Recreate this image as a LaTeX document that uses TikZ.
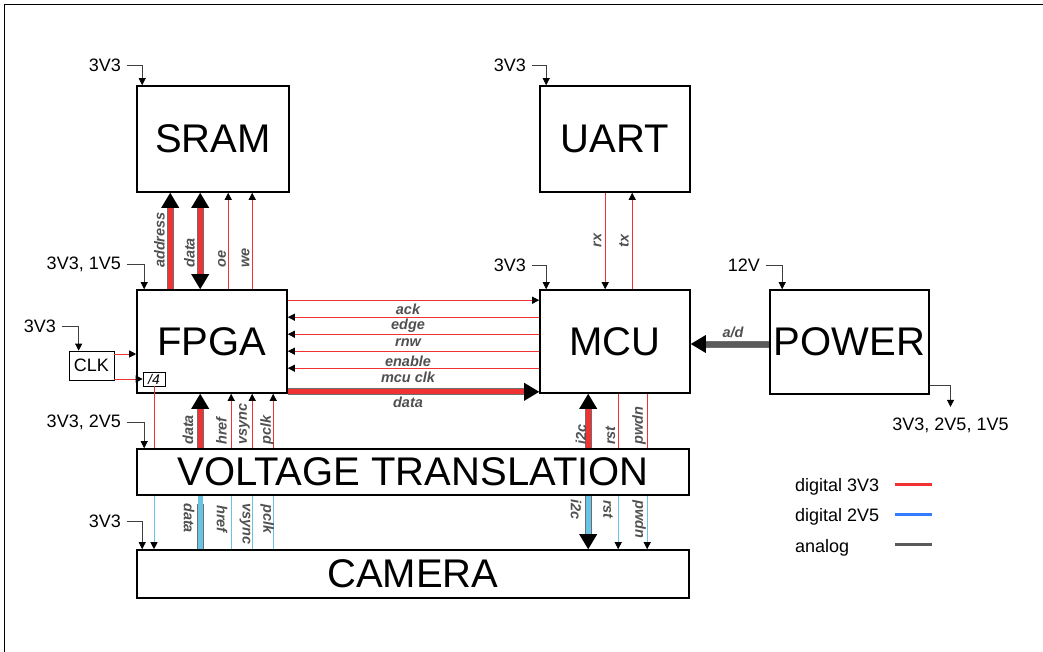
\documentclass[tikz,border=0pt]{standalone}
\usepackage{fontspec}
\setmainfont{Liberation Sans}
\usetikzlibrary{arrows.meta, shadows}

\definecolor{red3v3}{RGB}{240,50,50}
\definecolor{blue2v5}{RGB}{105,195,228}
\definecolor{bluekey}{RGB}{50,125,255}
\definecolor{analog}{RGB}{90,90,90}
\definecolor{busedge}{RGB}{110,110,110}
\definecolor{lblgray}{RGB}{80,80,80}

\begin{document}
\begin{tikzpicture}[x=1pt, y=-1pt,
    block/.style={draw, line width=1.6pt, fill=white, inner sep=0pt, font=\fontsize{40}{40}\selectfont,
        drop shadow={shadow xshift=1.3pt, shadow yshift=-1.3pt, fill=gray!80, opacity=0.6}},
    smallbox/.style={draw, line width=0.7pt, fill=white, inner sep=0pt, font=\fontsize{18}{18}\selectfont},
    vtext/.style={font=\fontsize{18}{18}\selectfont, inner sep=0pt},
    feed/.style={draw=black!75, line width=0.7pt, -{Triangle[width=7pt,length=7pt,color=black]}},
    sig/.style={draw=red3v3, line width=0.9pt},
    sigb/.style={draw=blue2v5, line width=0.9pt},
    tip/.style={-{Triangle[width=7pt,length=7pt,color=black]}},
    bigtip/.style={-{Triangle[width=18pt,length=15pt,line width=0pt,color=black]}},
    bigtips/.style={{Triangle[width=18pt,length=15pt,line width=0pt,color=black]}-{Triangle[width=18pt,length=15pt,line width=0pt,color=black]}},
    bus/.style={draw=#1, line width=5pt, preaction={draw=busedge, line width=7pt, -, shorten >=8pt}},
    busboth/.style={draw=#1, line width=5pt, preaction={draw=busedge, line width=7pt, -, shorten >=8pt, shorten <=8pt}},
    lbl/.style={font=\fontsize{14.5}{14.5}\selectfont\bfseries\itshape, text=lblgray, inner sep=0pt},
    uplbl/.style={lbl, rotate=90, anchor=west},
    dnlbl/.style={lbl, rotate=-90, anchor=west},
    key/.style={line width=3pt}]
\useasboundingbox (0,0) rectangle (1043,652);
\draw[line width=0.8pt] (4,652) -- (4,4) -- (1043,4);

% blocks
\node[block, minimum width=152pt, minimum height=106pt] (sram) at (213,139) {SRAM};
\node[block, minimum width=150pt, minimum height=106pt] (uart) at (615,139) {UART};
\node[block, minimum width=150pt, minimum height=103pt] (fpga) at (212,341.5) {FPGA};
\node[block, minimum width=150pt, minimum height=103pt] (mcu) at (615,341.5) {MCU};
\node[block, minimum width=159pt, minimum height=104pt] (power) at (849.5,342) {POWER};
\node[block, minimum width=552pt, minimum height=46pt] (vt) at (413,472) {VOLTAGE TRANSLATION};
\node[block, minimum width=552pt, minimum height=48pt] (camera) at (413,574) {CAMERA};
\node[smallbox, minimum width=45pt, minimum height=29pt] (clk) at (91.5,365.5) {CLK};
\node[smallbox, font=\fontsize{14}{14}\selectfont\itshape, minimum width=22pt, minimum height=14pt] (div) at (154,379) {/4};

% supplies
\node[vtext, anchor=east] (s-sram) at (121,65) {3V3};
\node[vtext, anchor=east] (s-uart) at (526,65) {3V3};
\node[vtext, anchor=east] (s-fpga) at (121,264) {3V3, 1V5};
\node[vtext, anchor=east] (s-clk) at (56,326) {3V3};
\node[vtext, anchor=east] (s-mcu) at (526,265) {3V3};
\node[vtext, anchor=east] (s-vt) at (121,422) {3V3, 2V5};
\node[vtext, anchor=east] (s-cam) at (121,521) {3V3};
\node[vtext, anchor=east] (s-pwr) at (760,265) {12V};
\node[vtext] (s-out) at (950.5,425.5) {3V3, 2V5, 1V5};
\draw[feed] ([xshift=6pt]s-sram.east) -| ([xshift=6pt]sram.north west);
\draw[feed] ([xshift=6pt]s-uart.east) -| ([xshift=7pt]uart.north west);
\draw[feed] ([xshift=6pt]s-fpga.east) -| ([xshift=8pt]fpga.north west);
\draw[feed] ([xshift=6pt]s-clk.east) -| ([xshift=10pt]clk.north west);
\draw[feed] ([xshift=6pt]s-mcu.east) -| ([xshift=7pt]mcu.north west);
\draw[feed] ([xshift=6pt]s-vt.east) -| ([xshift=8pt]vt.north west);
\draw[feed] ([xshift=6pt]s-cam.east) -| ([xshift=6pt]camera.north west);
\draw[feed] ([xshift=6pt]s-pwr.east) -| ([xshift=13pt]power.north west);
\draw[feed] ([yshift=9pt]power.south east) -| ([yshift=11pt]s-out.north);

% clock
\draw[sig, tip] ([yshift=11.5pt]clk.east) -- ([yshift=11.5pt]clk.east -| fpga.west);
\draw[sig, tip] (clk.east |- div.west) -- (div.west);
\draw[sig] (div.south) -- (div.south |- vt.north);
\draw[sigb, tip] (div.south |- vt.south) -- (div.south |- camera.north);

% sram <-> fpga
\draw[bus=red3v3, bigtip] ([xshift=34pt]fpga.north west) -- ([xshift=34pt]sram.south west);
\draw[busboth=red3v3, bigtips] ([xshift=64pt]fpga.north west) -- ([xshift=64pt]sram.south west);
\draw[sig, tip] ([xshift=92pt]fpga.north west) -- ([xshift=92pt]sram.south west);
\draw[sig, tip] ([xshift=116pt]fpga.north west) -- ([xshift=116pt]sram.south west);
\node[uplbl] (l-addr) at (159.5,268) {address};
\node[uplbl] (l-sdata) at (189.5,268) {data};
\node[uplbl] (l-oe) at (222,268) {oe};
\node[uplbl] (l-we) at (245.5,268) {we};

% uart <-> mcu
\draw[sig, tip] ([xshift=66pt]uart.south west) -- ([xshift=66pt]mcu.north west);
\draw[sig, tip] ([xshift=93pt]mcu.north west) -- ([xshift=93pt]uart.south west);
\node[lbl, rotate=90] (l-rx) at (597.5,240.5) {rx};
\node[lbl, rotate=90] (l-tx) at (624,241) {tx};

% fpga <-> mcu
\draw[sig, tip] ([yshift=-11pt]fpga.north east) -- ([yshift=-11pt]mcu.north west);
\draw[sig, tip] ([yshift=-28pt]mcu.north west) -- ([yshift=-28pt]fpga.north east);
\draw[sig, tip] ([yshift=-45pt]mcu.north west) -- ([yshift=-45pt]fpga.north east);
\draw[sig, tip] ([yshift=-62pt]mcu.north west) -- ([yshift=-62pt]fpga.north east);
\draw[sig, tip] ([yshift=-79pt]mcu.north west) -- ([yshift=-79pt]fpga.north east);
\draw[bus=red3v3, bigtip] ([yshift=2pt]fpga.south east) -- ([yshift=2pt]fpga.south east -| mcu.west);
\node[lbl] (l-ack) at (408,309) {ack};
\node[lbl] (l-edge) at (408,326) {edge};
\node[lbl] (l-rnw) at (408,343) {rnw};
\node[lbl] (l-enable) at (408,361) {enable};
\node[lbl] (l-mclk) at (408,377) {mcu clk};
\node[lbl] (l-mdata) at (408,402) {data};

% power -> mcu
\draw[bus=analog, bigtip] ([yshift=-2pt]power.west) -- ([yshift=-2pt]power.west -| mcu.east);
\node[lbl] (l-ad) at (733,332) {a/d};

% fpga <-> voltage translation
\draw[bus=red3v3, bigtip] ([xshift=64pt]fpga.south west |- vt.north) -- ([xshift=64pt]fpga.south west);
\draw[sig, tip] ([xshift=95pt]fpga.south west |- vt.north) -- ([xshift=95pt]fpga.south west);
\draw[sig, tip] ([xshift=116pt]fpga.south west |- vt.north) -- ([xshift=116pt]fpga.south west);
\draw[sig, tip] ([xshift=137pt]fpga.south west |- vt.north) -- ([xshift=137pt]fpga.south west);
\node[uplbl] (l-fdata) at (188,445) {data};
\node[uplbl] (l-fhref) at (221.5,445) {href};
\node[uplbl] (l-fvsync) at (244.5,445) {vsync};
\node[uplbl] (l-fpclk) at (267,445) {pclk};

% mcu <-> voltage translation
\draw[bus=red3v3, bigtip] ([xshift=49pt]mcu.south west |- vt.north) -- ([xshift=49pt]mcu.south west);
\draw[sig] ([xshift=79pt]mcu.south west) -- ([xshift=79pt]mcu.south west |- vt.north);
\draw[sig] ([xshift=108pt]mcu.south west) -- ([xshift=108pt]mcu.south west |- vt.north);
\node[uplbl] (l-mi2c) at (581,445) {i2c};
\node[uplbl] (l-mrst) at (610.5,445) {rst};
\node[uplbl] (l-mpwdn) at (639,445) {pwdn};

% voltage translation <-> camera
\draw[bus=blue2v5] ([xshift=64pt]camera.north west) -- ([xshift=64pt]camera.north west |- vt.south);
\draw[sigb] ([xshift=95pt]camera.north west) -- ([xshift=95pt]camera.north west |- vt.south);
\draw[sigb] ([xshift=116pt]camera.north west) -- ([xshift=116pt]camera.north west |- vt.south);
\draw[sigb] ([xshift=137pt]camera.north west) -- ([xshift=137pt]camera.north west |- vt.south);
\draw[bus=blue2v5, bigtip] ([xshift=49pt]mcu.south west |- vt.south) -- ([xshift=49pt]mcu.south west |- camera.north);
\draw[sigb, tip] ([xshift=79pt]mcu.south west |- vt.south) -- ([xshift=79pt]mcu.south west |- camera.north);
\draw[sigb, tip] ([xshift=108pt]mcu.south west |- vt.south) -- ([xshift=108pt]mcu.south west |- camera.north);
\node[dnlbl] (l-cdata) at (189,503) {data};
\node[dnlbl] (l-chref) at (222,505) {href};
\node[dnlbl] (l-cvsync) at (245,503) {vsync};
\node[dnlbl] (l-cpclk) at (267,504) {pclk};
\node[dnlbl] (l-ci2c) at (576,499) {i2c};
\node[dnlbl] (l-crst) at (608,500) {rst};
\node[dnlbl] (l-cpwdn) at (639,500) {pwdn};

% legend
\node[vtext, anchor=base west] (k-3v3) at (795,491) {digital 3V3};
\node[vtext, anchor=base west] (k-2v5) at (795,521) {digital 2V5};
\node[vtext, anchor=base west] (k-an) at (795,552) {analog};
\draw[key, red3v3] (895,484) -- (932,484);
\draw[key, bluekey] (895,514) -- (932,514);
\draw[key, analog] (895,544) -- (932,544);
\end{tikzpicture}
\end{document}
